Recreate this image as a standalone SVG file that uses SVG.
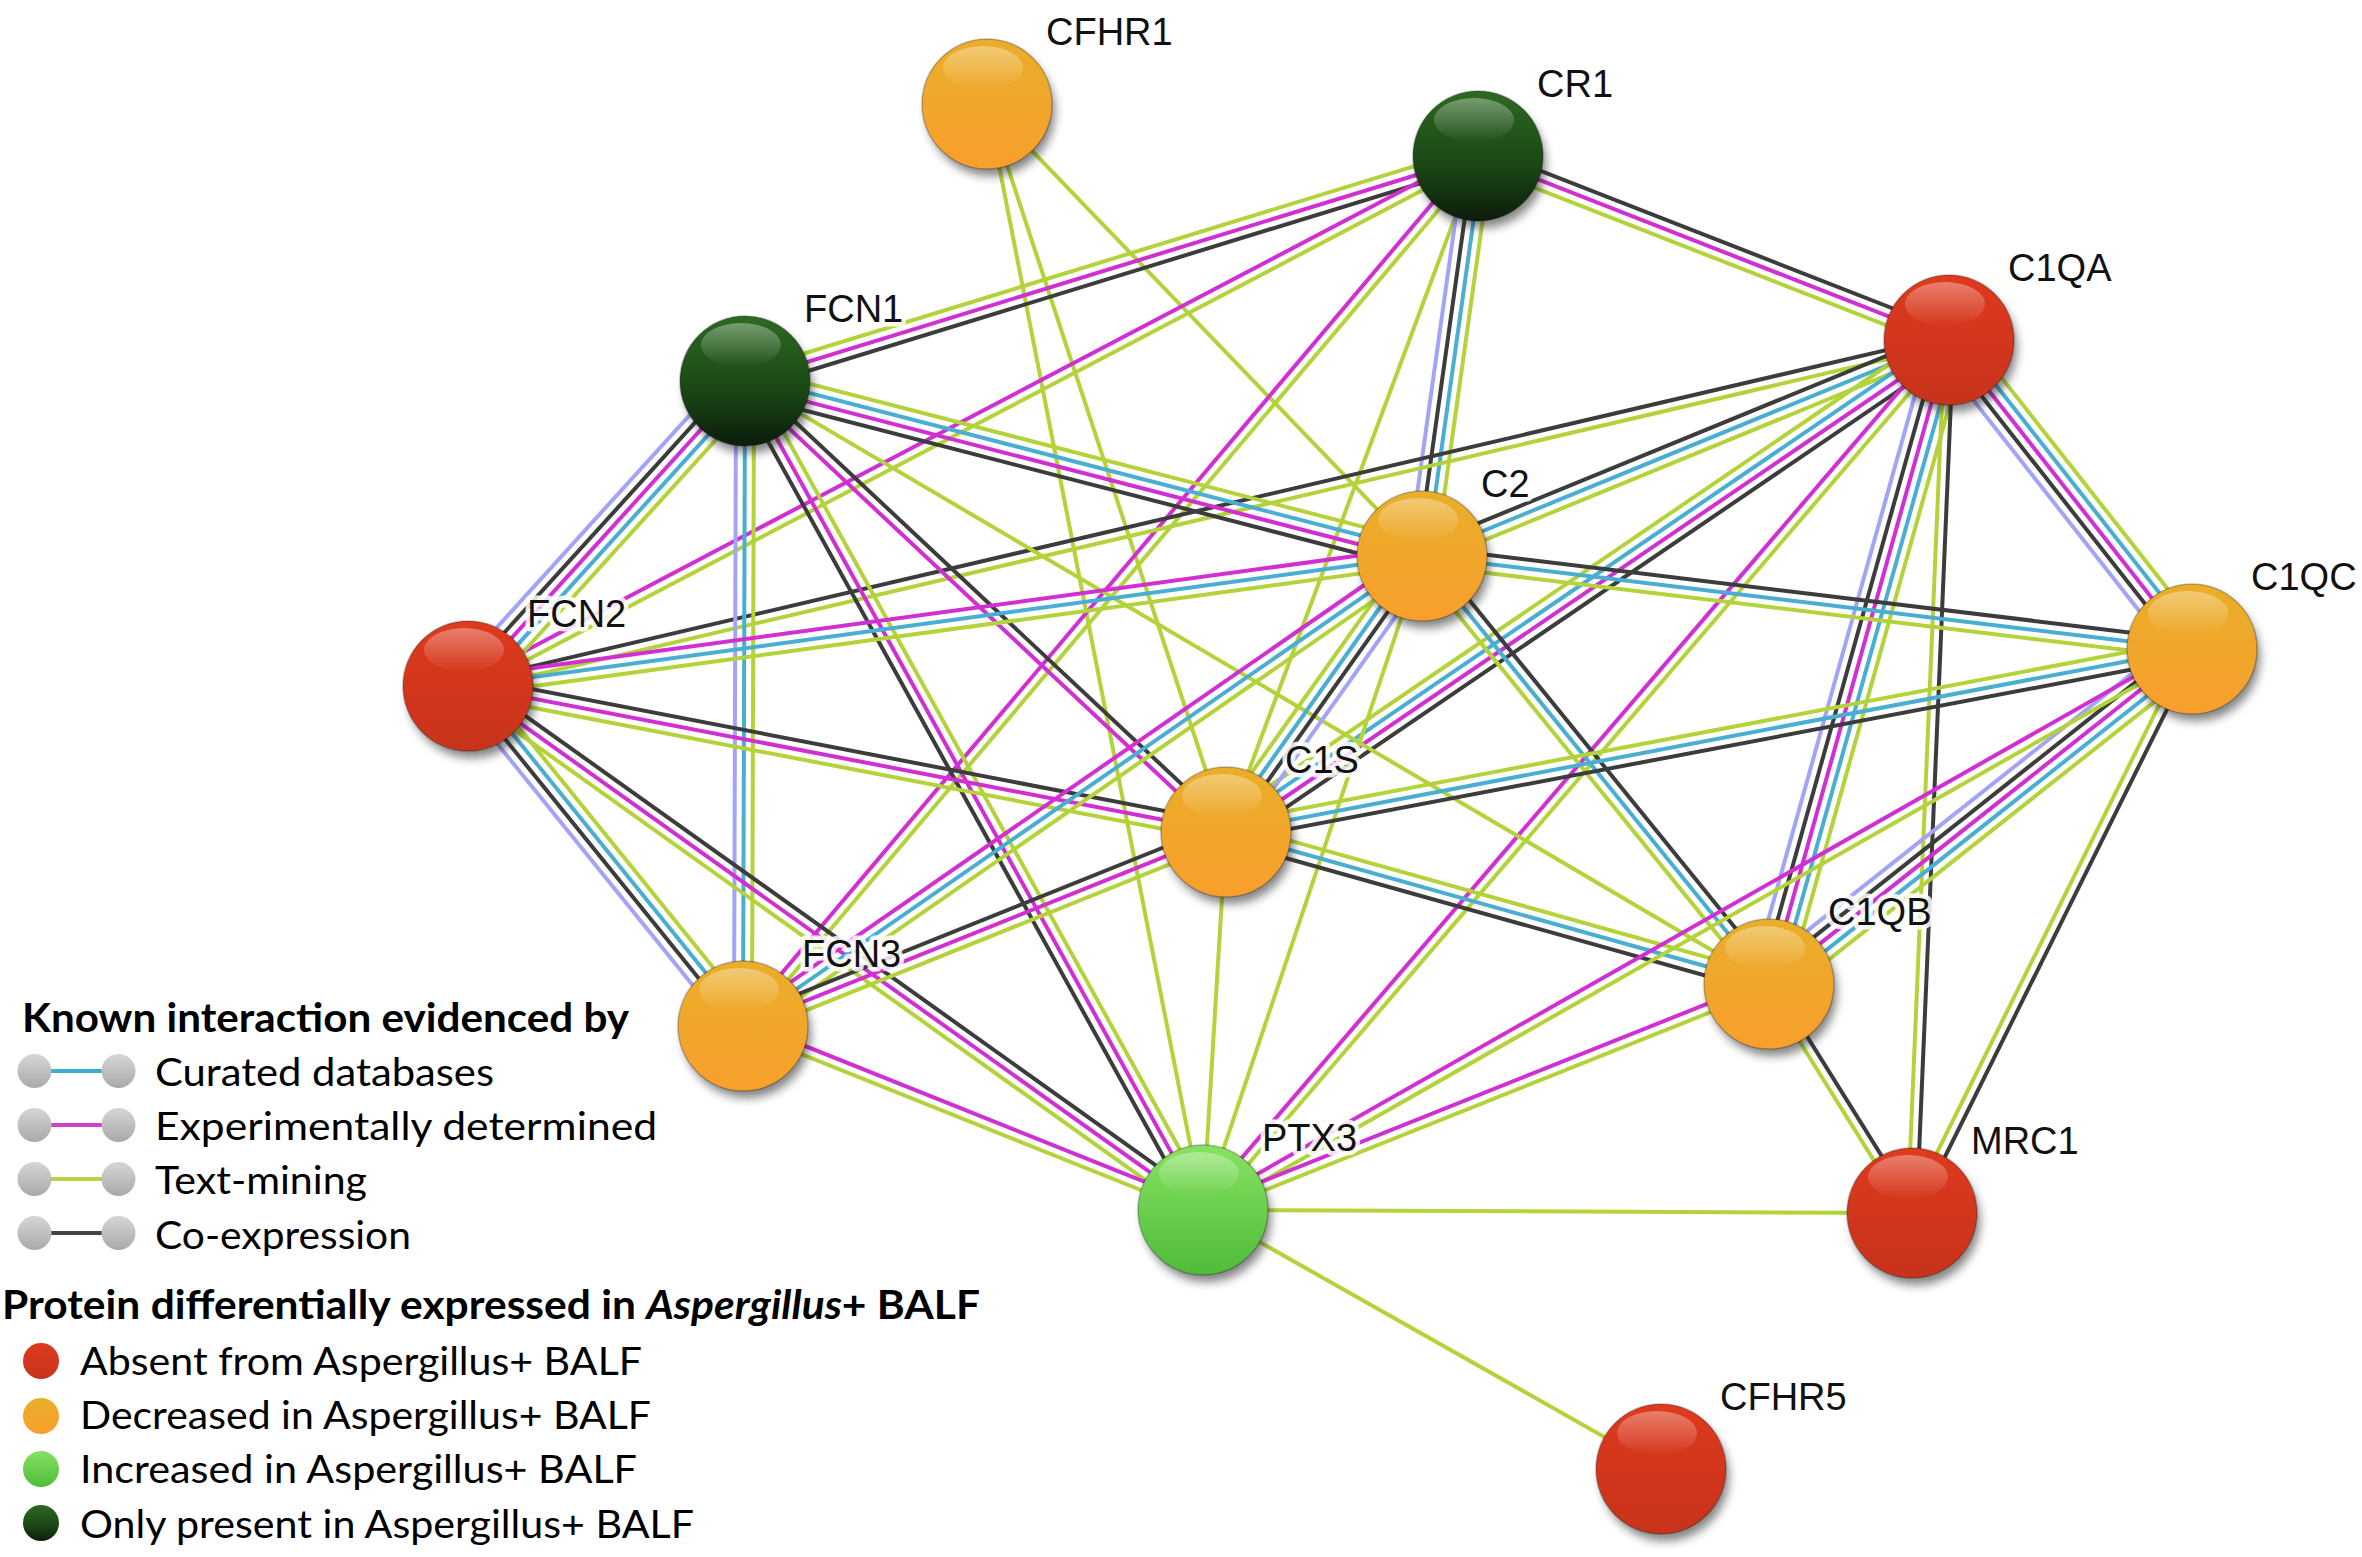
<svg xmlns="http://www.w3.org/2000/svg" width="2362" height="1557" viewBox="0 0 2362 1557">
<style>
.e line{stroke-width:4;fill:none}
.L{stroke:#a4a4f6}.K{stroke:#3c3c3c}.M{stroke:#d22fd2}.T{stroke:#49aed2}.G{stroke:#b4d33b}
.sh{fill:#222;opacity:0.55;filter:url(#blur)}
.ball{stroke:rgba(0,0,0,0.25);stroke-width:1.5}
.hl{fill:url(#gHL)}
.lbl{font-family:"Liberation Sans",Arial,sans-serif;font-size:38px;fill:#111;stroke:#fff;stroke-width:9;stroke-opacity:0.85;stroke-linejoin:round;paint-order:stroke}
.lg{font-family:Lato,"Open Sans",sans-serif;font-size:39px;fill:#000}
.lgb{font-family:Lato,"Open Sans",sans-serif;font-size:40px;font-weight:bold;fill:#000}
.gb{fill:url(#gGrey)}
</style>
<defs>
<filter id="blur" x="-50%" y="-50%" width="200%" height="200%"><feGaussianBlur stdDeviation="5"/></filter>
<linearGradient id="gO" x1="0" y1="0" x2="0" y2="1"><stop offset="0" stop-color="#e9ae2a"/><stop offset="1" stop-color="#f89f2c"/></linearGradient>
<linearGradient id="gR" x1="0" y1="0" x2="0" y2="1"><stop offset="0" stop-color="#de3a1e"/><stop offset="1" stop-color="#c7331b"/></linearGradient>
<linearGradient id="gD" x1="0" y1="0" x2="0" y2="1"><stop offset="0" stop-color="#2d6a22"/><stop offset="0.6" stop-color="#1a4415"/><stop offset="1" stop-color="#0c1c0c"/></linearGradient>
<linearGradient id="gL" x1="0" y1="0" x2="0" y2="1"><stop offset="0" stop-color="#86e262"/><stop offset="1" stop-color="#50bb3a"/></linearGradient>
<linearGradient id="gHL" x1="0" y1="0" x2="0" y2="1"><stop offset="0" stop-color="#fff" stop-opacity="0.35"/><stop offset="1" stop-color="#fff" stop-opacity="0"/></linearGradient>
<linearGradient id="gGrey" x1="0" y1="0" x2="0" y2="1"><stop offset="0" stop-color="#d6d6d6"/><stop offset="1" stop-color="#a9a9a9"/></linearGradient>
</defs>
<rect width="2362" height="1557" fill="#fff"/>

<g id="connectors" class="e">
<g transform="translate(987 104) rotate(46.09)"><line class="G" x2="627"/></g>
<g transform="translate(987 104) rotate(71.82)"><line class="G" x2="766"/></g>
<g transform="translate(987 104) rotate(78.95)"><line class="G" x2="1127"/></g>
<g transform="translate(745 381) rotate(-17.06)"><line class="K" x2="767" y1="9" y2="9"/><line class="M" x2="767"/><line class="G" x2="767" y1="-9" y2="-9"/></g>
<g transform="translate(468 686) rotate(-27.69)"><line class="G" x2="1141" y1="4.5" y2="4.5"/><line class="M" x2="1141" y1="-4.5" y2="-4.5"/></g>
<g transform="translate(743 1026) rotate(-49.80)"><line class="G" x2="1139" y1="4.5" y2="4.5"/><line class="M" x2="1139" y1="-4.5" y2="-4.5"/></g>
<g transform="translate(1226 832) rotate(-69.56)"><line class="G" x2="721"/></g>
<g transform="translate(1422 556) rotate(-82.03)"><line class="G" x2="404" y1="13.5" y2="13.5"/><line class="T" x2="404" y1="4.5" y2="4.5"/><line class="K" x2="404" y1="-4.5" y2="-4.5"/><line class="L" x2="404" y1="-13.5" y2="-13.5"/></g>
<g transform="translate(1478 156) rotate(21.34)"><line class="G" x2="506" y1="9" y2="9"/><line class="M" x2="506"/><line class="K" x2="506" y1="-9" y2="-9"/></g>
<g transform="translate(468 686) rotate(-13.15)"><line class="G" x2="1521" y1="4.5" y2="4.5"/><line class="K" x2="1521" y1="-4.5" y2="-4.5"/></g>
<g transform="translate(1422 556) rotate(-22.29)"><line class="G" x2="570" y1="9" y2="9"/><line class="T" x2="570"/><line class="K" x2="570" y1="-9" y2="-9"/></g>
<g transform="translate(1226 832) rotate(-34.24)"><line class="K" x2="875" y1="13.5" y2="13.5"/><line class="M" x2="875" y1="4.5" y2="4.5"/><line class="T" x2="875" y1="-4.5" y2="-4.5"/><line class="G" x2="875" y1="-13.5" y2="-13.5"/></g>
<g transform="translate(1203 1210) rotate(-49.39)"><line class="G" x2="1146" y1="4.5" y2="4.5"/><line class="M" x2="1146" y1="-4.5" y2="-4.5"/></g>
<g transform="translate(1769 984) rotate(-74.38)"><line class="G" x2="669" y1="18" y2="18"/><line class="T" x2="669" y1="9" y2="9"/><line class="M" x2="669"/><line class="K" x2="669" y1="-9" y2="-9"/><line class="L" x2="669" y1="-18" y2="-18"/></g>
<g transform="translate(1912 1213) rotate(-87.57)"><line class="K" x2="874" y1="4.5" y2="4.5"/><line class="G" x2="874" y1="-4.5" y2="-4.5"/></g>
<g transform="translate(1949 340) rotate(51.82)"><line class="L" x2="393" y1="18" y2="18"/><line class="K" x2="393" y1="9" y2="9"/><line class="M" x2="393"/><line class="T" x2="393" y1="-9" y2="-9"/><line class="G" x2="393" y1="-18" y2="-18"/></g>
<g transform="translate(468 686) rotate(-47.76)"><line class="G" x2="412" y1="18" y2="18"/><line class="T" x2="412" y1="9" y2="9"/><line class="M" x2="412"/><line class="K" x2="412" y1="-9" y2="-9"/><line class="L" x2="412" y1="-18" y2="-18"/></g>
<g transform="translate(743 1026) rotate(-89.82)"><line class="G" x2="645" y1="9" y2="9"/><line class="T" x2="645"/><line class="L" x2="645" y1="-9" y2="-9"/></g>
<g transform="translate(745 381) rotate(61.08)"><line class="K" x2="947" y1="9" y2="9"/><line class="M" x2="947"/><line class="G" x2="947" y1="-9" y2="-9"/></g>
<g transform="translate(745 381) rotate(43.15)"><line class="M" x2="659" y1="4.5" y2="4.5"/><line class="K" x2="659" y1="-4.5" y2="-4.5"/></g>
<g transform="translate(745 381) rotate(14.49)"><line class="K" x2="699" y1="13.5" y2="13.5"/><line class="M" x2="699" y1="4.5" y2="4.5"/><line class="T" x2="699" y1="-4.5" y2="-4.5"/><line class="G" x2="699" y1="-13.5" y2="-13.5"/></g>
<g transform="translate(745 381) rotate(30.49)"><line class="G" x2="1188"/></g>
<g transform="translate(468 686) rotate(-7.76)"><line class="G" x2="963" y1="9" y2="9"/><line class="T" x2="963"/><line class="M" x2="963" y1="-9" y2="-9"/></g>
<g transform="translate(468 686) rotate(10.90)"><line class="G" x2="772" y1="9" y2="9"/><line class="M" x2="772"/><line class="K" x2="772" y1="-9" y2="-9"/></g>
<g transform="translate(468 686) rotate(35.49)"><line class="G" x2="903" y1="9" y2="9"/><line class="M" x2="903"/><line class="K" x2="903" y1="-9" y2="-9"/></g>
<g transform="translate(468 686) rotate(51.03)"><line class="L" x2="437" y1="13.5" y2="13.5"/><line class="K" x2="437" y1="4.5" y2="4.5"/><line class="T" x2="437" y1="-4.5" y2="-4.5"/><line class="G" x2="437" y1="-13.5" y2="-13.5"/></g>
<g transform="translate(743 1026) rotate(-34.69)"><line class="G" x2="826" y1="9" y2="9"/><line class="T" x2="826"/><line class="M" x2="826" y1="-9" y2="-9"/></g>
<g transform="translate(743 1026) rotate(-21.88)"><line class="G" x2="521" y1="9" y2="9"/><line class="M" x2="521"/><line class="K" x2="521" y1="-9" y2="-9"/></g>
<g transform="translate(743 1026) rotate(21.80)"><line class="G" x2="495" y1="4.5" y2="4.5"/><line class="M" x2="495" y1="-4.5" y2="-4.5"/></g>
<g transform="translate(1226 832) rotate(-54.62)"><line class="L" x2="339" y1="13.5" y2="13.5"/><line class="K" x2="339" y1="4.5" y2="4.5"/><line class="T" x2="339" y1="-4.5" y2="-4.5"/><line class="G" x2="339" y1="-13.5" y2="-13.5"/></g>
<g transform="translate(1422 556) rotate(6.89)"><line class="G" x2="776" y1="9" y2="9"/><line class="T" x2="776"/><line class="K" x2="776" y1="-9" y2="-9"/></g>
<g transform="translate(1422 556) rotate(50.96)"><line class="G" x2="551" y1="9" y2="9"/><line class="T" x2="551"/><line class="K" x2="551" y1="-9" y2="-9"/></g>
<g transform="translate(1203 1210) rotate(-71.48)"><line class="G" x2="690"/></g>
<g transform="translate(1226 832) rotate(-10.73)"><line class="K" x2="983" y1="9" y2="9"/><line class="T" x2="983"/><line class="G" x2="983" y1="-9" y2="-9"/></g>
<g transform="translate(1226 832) rotate(15.64)"><line class="K" x2="564" y1="9" y2="9"/><line class="T" x2="564"/><line class="G" x2="564" y1="-9" y2="-9"/></g>
<g transform="translate(1203 1210) rotate(-86.52)"><line class="G" x2="379"/></g>
<g transform="translate(1769 984) rotate(-38.38)"><line class="G" x2="540" y1="18" y2="18"/><line class="T" x2="540" y1="9" y2="9"/><line class="M" x2="540"/><line class="K" x2="540" y1="-9" y2="-9"/><line class="L" x2="540" y1="-18" y2="-18"/></g>
<g transform="translate(1203 1210) rotate(-29.57)"><line class="G" x2="1137" y1="4.5" y2="4.5"/><line class="M" x2="1137" y1="-4.5" y2="-4.5"/></g>
<g transform="translate(1912 1213) rotate(-63.60)"><line class="K" x2="630" y1="4.5" y2="4.5"/><line class="G" x2="630" y1="-4.5" y2="-4.5"/></g>
<g transform="translate(1769 984) rotate(58.02)"><line class="G" x2="270" y1="4.5" y2="4.5"/><line class="K" x2="270" y1="-4.5" y2="-4.5"/></g>
<g transform="translate(1203 1210) rotate(-21.77)"><line class="G" x2="610" y1="4.5" y2="4.5"/><line class="M" x2="610" y1="-4.5" y2="-4.5"/></g>
<g transform="translate(1203 1210) rotate(0.24)"><line class="G" x2="709"/></g>
<g transform="translate(1203 1210) rotate(29.49)"><line class="G" x2="526"/></g>
</g>

<g id="n-CFHR1" transform="translate(987 104)"><circle class="sh" cx="4" cy="8" r="64"/><circle class="ball" r="65" fill="url(#gO)"/><ellipse class="hl" cx="-4" cy="-36" rx="40" ry="22"/><text class="lbl" x="59" y="-59">CFHR1</text></g>
<g id="n-CR1" transform="translate(1478 156)"><circle class="sh" cx="4" cy="8" r="64"/><circle class="ball" r="65" fill="url(#gD)"/><ellipse class="hl" cx="-4" cy="-36" rx="40" ry="22"/><text class="lbl" x="59" y="-59">CR1</text></g>
<g id="n-C1QA" transform="translate(1949 340)"><circle class="sh" cx="4" cy="8" r="64"/><circle class="ball" r="65" fill="url(#gR)"/><ellipse class="hl" cx="-4" cy="-36" rx="40" ry="22"/><text class="lbl" x="59" y="-59">C1QA</text></g>
<g id="n-FCN1" transform="translate(745 381)"><circle class="sh" cx="4" cy="8" r="64"/><circle class="ball" r="65" fill="url(#gD)"/><ellipse class="hl" cx="-4" cy="-36" rx="40" ry="22"/><text class="lbl" x="59" y="-59">FCN1</text></g>
<g id="n-C2" transform="translate(1422 556)"><circle class="sh" cx="4" cy="8" r="64"/><circle class="ball" r="65" fill="url(#gO)"/><ellipse class="hl" cx="-4" cy="-36" rx="40" ry="22"/><text class="lbl" x="59" y="-59">C2</text></g>
<g id="n-C1QC" transform="translate(2192 649)"><circle class="sh" cx="4" cy="8" r="64"/><circle class="ball" r="65" fill="url(#gO)"/><ellipse class="hl" cx="-4" cy="-36" rx="40" ry="22"/><text class="lbl" x="59" y="-59">C1QC</text></g>
<g id="n-FCN2" transform="translate(468 686)"><circle class="sh" cx="4" cy="8" r="64"/><circle class="ball" r="65" fill="url(#gR)"/><ellipse class="hl" cx="-4" cy="-36" rx="40" ry="22"/><text class="lbl" x="59" y="-59">FCN2</text></g>
<g id="n-C1S" transform="translate(1226 832)"><circle class="sh" cx="4" cy="8" r="64"/><circle class="ball" r="65" fill="url(#gO)"/><ellipse class="hl" cx="-4" cy="-36" rx="40" ry="22"/><text class="lbl" x="59" y="-59">C1S</text></g>
<g id="n-C1QB" transform="translate(1769 984)"><circle class="sh" cx="4" cy="8" r="64"/><circle class="ball" r="65" fill="url(#gO)"/><ellipse class="hl" cx="-4" cy="-36" rx="40" ry="22"/><text class="lbl" x="59" y="-59">C1QB</text></g>
<g id="n-FCN3" transform="translate(743 1026)"><circle class="sh" cx="4" cy="8" r="64"/><circle class="ball" r="65" fill="url(#gO)"/><ellipse class="hl" cx="-4" cy="-36" rx="40" ry="22"/><text class="lbl" x="59" y="-59">FCN3</text></g>
<g id="n-PTX3" transform="translate(1203 1210)"><circle class="sh" cx="4" cy="8" r="64"/><circle class="ball" r="65" fill="url(#gL)"/><ellipse class="hl" cx="-4" cy="-36" rx="40" ry="22"/><text class="lbl" x="59" y="-59">PTX3</text></g>
<g id="n-MRC1" transform="translate(1912 1213)"><circle class="sh" cx="4" cy="8" r="64"/><circle class="ball" r="65" fill="url(#gR)"/><ellipse class="hl" cx="-4" cy="-36" rx="40" ry="22"/><text class="lbl" x="59" y="-59">MRC1</text></g>
<g id="n-CFHR5" transform="translate(1661 1469)"><circle class="sh" cx="4" cy="8" r="64"/><circle class="ball" r="65" fill="url(#gR)"/><ellipse class="hl" cx="-4" cy="-36" rx="40" ry="22"/><text class="lbl" x="59" y="-59">CFHR5</text></g>

<g id="legend">
<text class="lgb" x="22" y="1032" textLength="607" lengthAdjust="spacingAndGlyphs">Known interaction evidenced by</text>
<g><line x1="50" y1="1071" x2="104" y2="1071" stroke="#3aaccf" stroke-width="4"/><circle class="gb" cx="34.5" cy="1071" r="17"/><circle class="gb" cx="118.5" cy="1071" r="17"/><text class="lg" x="155" y="1086" textLength="339" lengthAdjust="spacingAndGlyphs">Curated databases</text></g>
<g><line x1="50" y1="1125" x2="104" y2="1125" stroke="#cc44cc" stroke-width="4"/><circle class="gb" cx="34.5" cy="1125" r="17"/><circle class="gb" cx="118.5" cy="1125" r="17"/><text class="lg" x="155" y="1140" textLength="502" lengthAdjust="spacingAndGlyphs">Experimentally determined</text></g>
<g><line x1="50" y1="1179" x2="104" y2="1179" stroke="#b8d04a" stroke-width="4"/><circle class="gb" cx="34.5" cy="1179" r="17"/><circle class="gb" cx="118.5" cy="1179" r="17"/><text class="lg" x="155" y="1194" textLength="212" lengthAdjust="spacingAndGlyphs">Text-mining</text></g>
<g><line x1="50" y1="1233" x2="104" y2="1233" stroke="#444" stroke-width="4"/><circle class="gb" cx="34.5" cy="1233" r="17"/><circle class="gb" cx="118.5" cy="1233" r="17"/><text class="lg" x="155" y="1249" textLength="256" lengthAdjust="spacingAndGlyphs">Co-expression</text></g>
<text class="lgb" x="2" y="1319" textLength="978" lengthAdjust="spacingAndGlyphs">Protein differentially expressed in <tspan font-style="italic">Aspergillus</tspan>+ BALF</text>
<g><circle cx="41" cy="1361" r="18" fill="url(#gR)"/><text class="lg" x="80" y="1375" textLength="562" lengthAdjust="spacingAndGlyphs">Absent from Aspergillus+ BALF</text></g>
<g><circle cx="41" cy="1416" r="18" fill="url(#gO)"/><text class="lg" x="80" y="1429" textLength="571" lengthAdjust="spacingAndGlyphs">Decreased in Aspergillus+ BALF</text></g>
<g><circle cx="41" cy="1469" r="18" fill="url(#gL)"/><text class="lg" x="80" y="1483" textLength="557" lengthAdjust="spacingAndGlyphs">Increased in Aspergillus+ BALF</text></g>
<g><circle cx="41" cy="1523" r="18" fill="url(#gD)"/><text class="lg" x="80" y="1538" textLength="614" lengthAdjust="spacingAndGlyphs">Only present in Aspergillus+ BALF</text></g>
</g>
</svg>
